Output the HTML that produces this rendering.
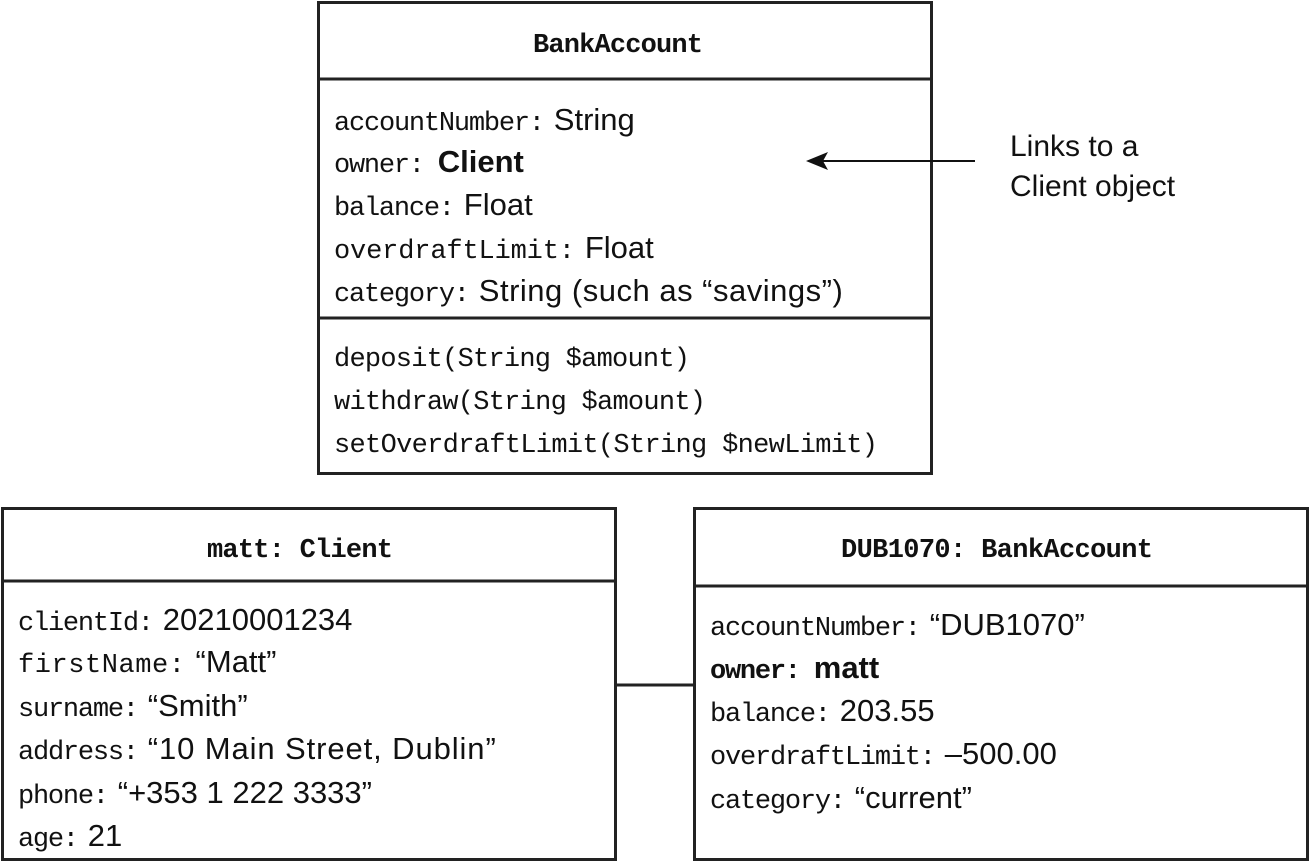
<!DOCTYPE html>
<html><head><style>body{margin:0;background:#fff}</style></head><body>
<svg width="1310" height="863" xmlns="http://www.w3.org/2000/svg" style="display:block">
<g fill="none" stroke="#222" stroke-width="3">
<rect x="318.5" y="2.5" width="613" height="471"/>
<line x1="318" y1="79" x2="932" y2="79"/>
<line x1="318" y1="318" x2="932" y2="318"/>
<rect x="2.5" y="508.5" width="613" height="351"/>
<line x1="2" y1="581" x2="616" y2="581"/>
<rect x="694.5" y="508.5" width="613" height="351"/>
<line x1="694" y1="586" x2="1308" y2="586"/>
<line x1="616" y1="685" x2="694" y2="685"/>
</g>
<line x1="975" y1="161" x2="818" y2="161" stroke="#111" stroke-width="2"/>
<path d="M806,161 L828,152 L823,161 L828,170 z" fill="#111"/>
<g font-family="Liberation Mono, monospace" font-size="27" fill="#111" font-weight="bold">
<text x="618" y="52" text-anchor="middle" textLength="170">BankAccount</text>
<text x="300" y="557" text-anchor="middle" textLength="186">matt: Client</text>
<text x="997" y="557" text-anchor="middle" textLength="312">DUB1070: BankAccount</text>
</g>
<g font-family="Liberation Mono, monospace" font-size="27" fill="#111">
<text x="334" y="130"><tspan textLength="211">accountNumber:</tspan><tspan dx="10" font-family="Liberation Sans, sans-serif" font-size="31">String</tspan></text>
<text x="334" y="172"><tspan textLength="91">owner:</tspan><tspan dx="14" font-family="Liberation Sans, sans-serif" font-size="31" font-weight="bold">Client</tspan></text>
<text x="334" y="215"><tspan textLength="121">balance:</tspan><tspan dx="10" font-family="Liberation Sans, sans-serif" font-size="31">Float</tspan></text>
<text x="334" y="258"><tspan textLength="241">overdraftLimit:</tspan><tspan dx="10" font-family="Liberation Sans, sans-serif" font-size="31">Float</tspan></text>
<text x="334" y="301"><tspan textLength="136">category:</tspan><tspan dx="10" font-family="Liberation Sans, sans-serif" font-size="31" textLength="364">String (such as “savings”)</tspan></text>
<text x="334" y="366" textLength="356">deposit(String $amount)</text>
<text x="334" y="409" textLength="372">withdraw(String $amount)</text>
<text x="334" y="452" textLength="544">setOverdraftLimit(String $newLimit)</text>

<text x="18" y="630"><tspan textLength="136">clientId:</tspan><tspan dx="10" font-family="Liberation Sans, sans-serif" font-size="31">20210001234</tspan></text>
<text x="18" y="672"><tspan textLength="167">firstName:</tspan><tspan dx="10" font-family="Liberation Sans, sans-serif" font-size="31">“Matt”</tspan></text>
<text x="18" y="716"><tspan textLength="121">surname:</tspan><tspan dx="10" font-family="Liberation Sans, sans-serif" font-size="31">“Smith”</tspan></text>
<text x="18" y="759"><tspan textLength="121">address:</tspan><tspan dx="10" font-family="Liberation Sans, sans-serif" font-size="31" textLength="348">“10 Main Street, Dublin”</tspan></text>
<text x="18" y="803"><tspan textLength="91">phone:</tspan><tspan dx="10" font-family="Liberation Sans, sans-serif" font-size="31">“+353 1 222 3333”</tspan></text>
<text x="18" y="846"><tspan textLength="61">age:</tspan><tspan dx="10" font-family="Liberation Sans, sans-serif" font-size="31">21</tspan></text>

<text x="710" y="635"><tspan textLength="211">accountNumber:</tspan><tspan dx="10" font-family="Liberation Sans, sans-serif" font-size="31">“DUB1070”</tspan></text>
<text x="710" y="678" font-weight="bold"><tspan textLength="91">owner:</tspan><tspan dx="14" font-family="Liberation Sans, sans-serif" font-size="31">matt</tspan></text>
<text x="710" y="721"><tspan textLength="121">balance:</tspan><tspan dx="10" font-family="Liberation Sans, sans-serif" font-size="31">203.55</tspan></text>
<text x="710" y="764"><tspan textLength="226">overdraftLimit:</tspan><tspan dx="10" font-family="Liberation Sans, sans-serif" font-size="31">–500.00</tspan></text>
<text x="710" y="808"><tspan textLength="136">category:</tspan><tspan dx="10" font-family="Liberation Sans, sans-serif" font-size="31">“current”</tspan></text>
</g>
<g font-family="Liberation Sans, sans-serif" font-size="30" fill="#111">
<text x="1010" y="156">Links to a</text>
<text x="1010" y="196">Client object</text>
</g>
</svg>
</body></html>
